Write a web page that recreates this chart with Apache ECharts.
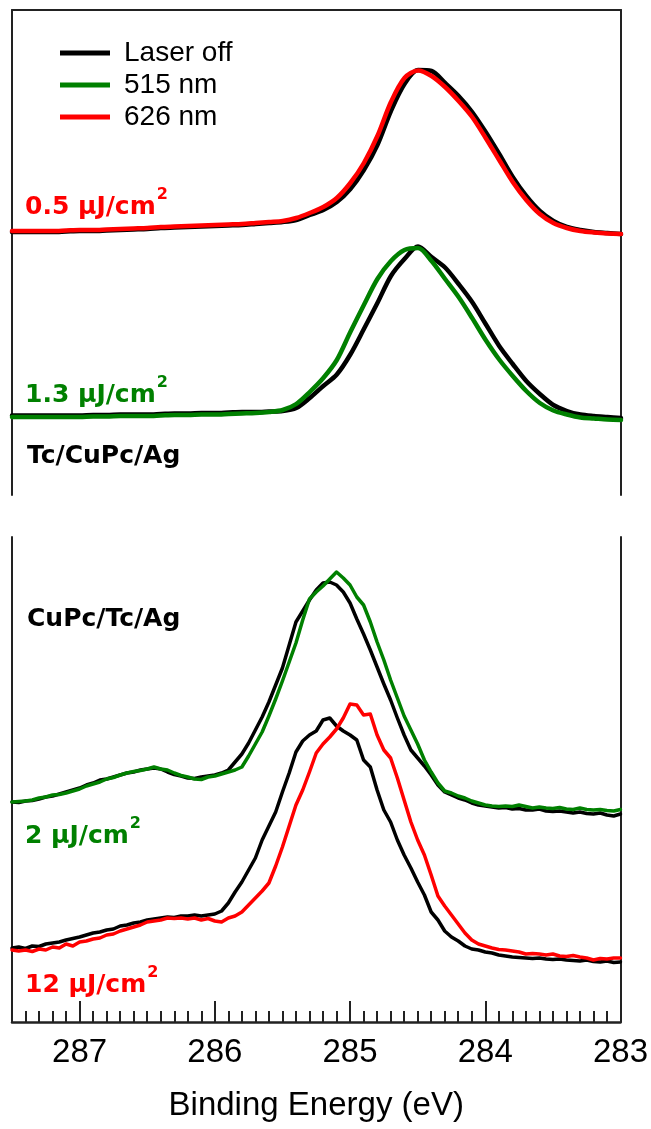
<!DOCTYPE html>
<html>
<head>
<meta charset="utf-8">
<script src="https://cdn.jsdelivr.net/npm/echarts@6/dist/echarts.min.js"></script>
<style>
  html, body { margin: 0; padding: 0; background: #fff; }
  #chart { width: 651px; height: 1129px; }
</style>
</head>
<body>
<div id="chart"></div>
<script>
// binding energy grids (eV)
const topEnergy = [287.5,287.4,287.3,287.2,287.1,287.0,286.9,286.8,286.7,286.6,286.5,286.4,286.3,286.2,286.1,286.0,285.9,285.8,285.7,285.6,285.5,285.4,285.3,285.2,285.1,285.0,284.9,284.8,284.7,284.6,284.5,284.4,284.3,284.2,284.1,284.0,283.9,283.8,283.7,283.6,283.5,283.4,283.3,283.2,283.1,283.0];
const bottomEnergy = [
  287.5,287.45,287.4,287.35,287.3,287.25,287.2,287.15,287.1,287.05,
  287.0,286.95,286.9,286.85,286.8,286.75,286.7,286.65,286.6,286.55,
  286.5,286.45,286.4,286.35,286.3,286.25,286.2,286.15,286.1,286.05,
  286.0,285.95,285.9,285.85,285.8,285.75,285.7,285.65,285.6,285.55,
  285.5,285.45,285.4,285.35,285.3,285.25,285.2,285.15,285.1,285.05,
  285.0,284.95,284.9,284.85,284.8,284.75,284.7,284.65,284.6,284.55,
  284.5,284.45,284.4,284.35,284.3,284.25,284.2,284.15,284.1,284.05,
  284.0,283.95,283.9,283.85,283.8,283.75,283.7,283.65,283.6,283.55,
  283.5,283.45,283.4,283.35,283.3,283.25,283.2,283.15,283.1,283.05,
  283.0];

// Tc/CuPc/Ag (intensity, arb. units incl. offset)
const topOff05 = [263,263,263,263,263.5,264,264,264.5,265,265.5,266,267,267.5,268,268.5,269,269.5,270,271,272,273,275,280,285,293,306,325,350,384,411,425,424,412,399,383,363,341,318,299,284,274,268,265,263,262,261];
const top626 = [264,264,264,264,264.5,265,265,265.5,266,266.5,267,268,268.5,269,269.5,270,270.5,271,272,273,274,277,282,288,297,312,332,359,393,417,424.5,419,408,394,378,357,335,313,295,281,272,267,264,262.5,261.5,261];
const topOff13 = [79.5,79.5,79.5,79.5,79.5,79.5,80,80,80.5,80.5,80.5,81,81.5,81.5,82,82,82.5,83,83,83.5,84,87,97,109,120.5,140.5,166,192,219,236,248.5,238,227.5,211,193,171,149,131,114,101,90,84,80.5,79,78,77];
const top515 = [78,78,78,78,78,78,78.5,78.5,79,79,79,79.5,80,80,80.5,80.5,81,81.5,82,83,85,91,103,117,135,163,190,216,234,245,247,234,216,198,177,155,135.5,119,104,92,84.5,80.5,77.5,76.5,75.5,75];

// CuPc/Tc/Ag
const bottomOff2 = [
  220,219.5,221,221.5,223,225,226,228,230,232,
  234,237,239,242,243,245,247,249,250,252,
  253,254,253,250,247.5,246,244,243.5,245,246,
  247,249,252,260,268,279,292,305,320,337,
  354,377,400,411,422,432,439,440,437,430,
  419,403,388,372,355,338,322,304,287,272,
  264,256,247,237,230,227,224,222,219,217,
  216,215,214,214.5,213,213.5,212,212,213,211,
  210.5,211,210,209,210,208.5,208,209,207,206,
  208];
const bottom515 = [
  220,220.5,221,222,224,225,227,227.5,229,231,
  233,236,238,240,243,244.5,247,249,250.5,251.5,
  253,255,253,252,249,246.5,245,243,242.5,245,
  246,248,250,252,255,266,278,290,306,323,
  341,360,379,402,423,430,436,443,450,444,
  437,425,417,400,380,362,342,324,306,292,
  278,262,250,239,231,229,226,224,221,219,
  217,216,215.5,216,215.5,217,215.5,214,215,214,
  213.5,214.5,213,212.5,214,212.5,212,212.5,211.5,211,
  212.5];
const bottomOff12 = [
  74,75,73.5,76,75.5,78,79,80,82,83.5,
  85,87,89,90,92,93,96,97,99,100,
  102,103,104,105,104.5,106,106,107,106,107,
  108,111,119,130,140,152,164,182,196,210,
  230,249,270,281,287,291,302,304,296,291,
  287,282,262,255,232,212,200,182,167,154,
  140,127,110,102,91,85,81,76,73,72,
  70,69,67,66,65,64.5,64,63.5,64,63,
  62.5,63,62,61.5,61,62,60.5,60,61,59.5,
  60];
const bottom626 = [
  72,71,72,70.5,73,72,75,74,78,76,
  80,81,83,84,87,88,91,93,95,97,
  100,101,102,104,103.5,104,103,104,102,103.5,
  101,100,104,106,110,117,124,131,139,156,
  175,196,217,232,250,269,278,285,293,304,
  318,317,307,308,287,272,264,244,222,200,
  182,167,147,126,116,107,98,89,82,78,
  76,74,72.5,72,71,70,68,68.5,68,67,
  68,66,65.5,66.5,65,64,62,63.5,63,64,
  64];

const legendNames = ['Laser off', '515 nm', '626 nm'];
const colors = { 'Laser off': '#000000', '515 nm': '#008000', '626 nm': '#ff0000' };

const pair = (xs, ys) => xs.map((x, i) => [x, ys[i]]);

const sans = '"Liberation Sans", Arial, sans-serif';
const boldLabel = 'bold 25px "DejaVu Sans", sans-serif';

const makeLine = (name, xs, ys, gridIdx, smooth, width) => ({
    name: name,
    type: 'line',
    xAxisIndex: gridIdx === 0 ? 0 : 1,
    yAxisIndex: gridIdx === 0 ? 0 : 2,
    data: pair(xs, ys),
    smooth: smooth,
    showSymbol: false,
    symbol: 'none',
    animation: false,
    color: colors[name],
    lineStyle: { color: colors[name], width: width, join: 'round', cap: 'round' }
});

const border = { show: true, onZero: false, lineStyle: { color: '#222', width: 2 } };

const xBase = { type: 'value', min: 283, max: 287.5, inverse: true, splitLine: { show: false } };
const yBase = { type: 'value', min: 0, max: 485, axisTick: { show: false }, axisLabel: { show: false }, splitLine: { show: false }, axisLine: border };

// intensity label with superscript 2
const fluence = (text, color, y) => ({
    type: 'text',
    x: 25,
    y: y,
    style: {
        text: '{a|' + text + '}{s|2}',
        verticalAlign: 'bottom',
        rich: {
            a: { font: boldLabel, fill: color, lineHeight: 25, verticalAlign: 'bottom' },
            s: { font: 'bold 16px "DejaVu Sans", sans-serif', fill: color, lineHeight: 16, padding: [0, 0, 17, 1], verticalAlign: 'bottom' }
        }
    }
});

const sample = (text, y) => ({
    type: 'text', x: 27, y: y,
    style: { text: text, font: boldLabel, fill: '#000', verticalAlign: 'middle' }
});

const chart = echarts.init(document.getElementById('chart'), null, { renderer: 'canvas' });

chart.setOption({
    backgroundColor: '#fff',
    animation: false,
    grid: [
        { left: 12, right: 30, top: 10, height: 485 },
        { left: 12, right: 30, top: 537, height: 485 }
    ],
    xAxis: [
        Object.assign({}, xBase, {
            gridIndex: 0, position: 'top',
            axisLine: border, axisTick: { show: false }, axisLabel: { show: false }
        }),
        Object.assign({}, xBase, {
            gridIndex: 1, position: 'bottom', interval: 1,
            axisLine: { show: true, onZero: false, lineStyle: { color: '#222', width: 2.5 } },
            axisTick: { show: true, inside: true, length: 21, lineStyle: { color: '#222', width: 2 } },
            axisLabel: { show: true, margin: 14, fontSize: 33, fontFamily: sans, color: '#000', showMaxLabel: false },
            name: 'Binding Energy (eV)',
            nameLocation: 'middle',
            nameGap: 67,
            nameTextStyle: { fontSize: 33, fontFamily: sans, color: '#000' }
        }),
        // minor ticks every 0.1 eV
        Object.assign({}, xBase, {
            gridIndex: 1, position: 'bottom', interval: 0.1,
            axisLine: { show: false, onZero: false },
            axisTick: { show: true, inside: true, length: 11, lineStyle: { color: '#222', width: 2 } },
            axisLabel: { show: false }
        })
    ],
    yAxis: [
        Object.assign({}, yBase, { gridIndex: 0, position: 'left' }),
        Object.assign({}, yBase, { gridIndex: 0, position: 'right' }),
        Object.assign({}, yBase, { gridIndex: 1, position: 'left' }),
        Object.assign({}, yBase, { gridIndex: 1, position: 'right' })
    ],
    legend: {
        data: legendNames,
        orient: 'vertical',
        left: 60,
        top: 39,
        padding: 0,
        icon: 'rect',
        itemWidth: 50,
        itemHeight: 5,
        itemGap: 4,
        selectedMode: false,
        textStyle: { fontSize: 28, lineHeight: 28, fontFamily: sans, color: '#000', padding: [0, 0, 0, 9] }
    },
    series: [
        makeLine('Laser off', topEnergy, topOff05, 0, 0.3, 4.5),
        makeLine('626 nm', topEnergy, top626, 0, 0.3, 4.5),
        makeLine('Laser off', topEnergy, topOff13, 0, 0.3, 4.5),
        makeLine('515 nm', topEnergy, top515, 0, 0.3, 4.5),
        makeLine('Laser off', bottomEnergy, bottomOff2, 1, false, 3.5),
        makeLine('515 nm', bottomEnergy, bottom515, 1, false, 3.5),
        makeLine('Laser off', bottomEnergy, bottomOff12, 1, false, 3.5),
        makeLine('626 nm', bottomEnergy, bottom626, 1, false, 3.5)
    ],
    graphic: [
        fluence('0.5 µJ/cm', '#ff0000', 220),
        fluence('1.3 µJ/cm', '#008000', 408),
        sample('Tc/CuPc/Ag', 456),
        sample('CuPc/Tc/Ag', 619),
        fluence('2 µJ/cm', '#008000', 849),
        fluence('12 µJ/cm', '#ff0000', 998)
    ]
});
</script>
</body>
</html>
